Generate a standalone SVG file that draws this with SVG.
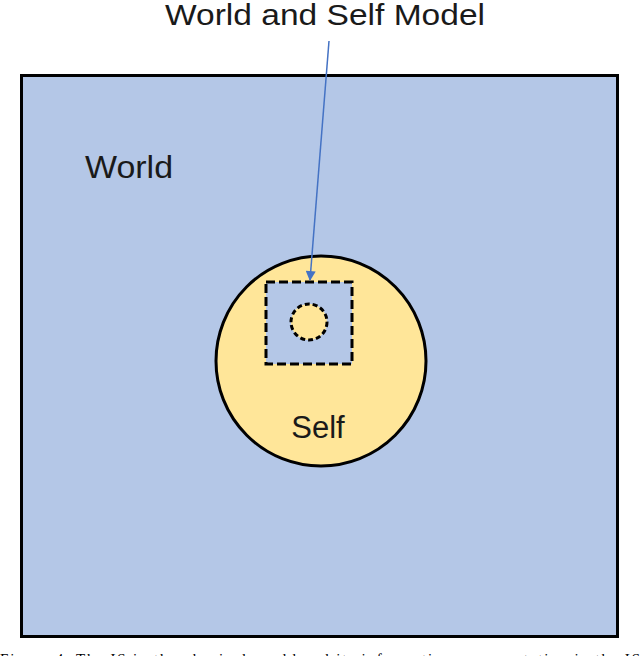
<svg xmlns="http://www.w3.org/2000/svg" width="640" height="656" viewBox="0 0 640 656">
<style>
.lbl{font-family:"Liberation Sans","Noto Sans",Arial,sans-serif;fill:#1a1a1a}
.dash{fill:none;stroke:#000;stroke-width:3}
</style>
<defs>
<marker id="ah" viewBox="0 0 10 10" refX="9" refY="5" markerWidth="11" markerHeight="10" markerUnits="userSpaceOnUse" orient="auto">
<path d="M0,0 L10,5 L0,10 z" fill="#4472C4"/>
</marker>
</defs>
<rect width="640" height="656" fill="#fff"/>
<g id="world">
<rect x="21.5" y="75.5" width="596" height="561" fill="#B4C7E7" stroke="#000" stroke-width="3"/>
<text class="lbl" x="85" y="178" font-size="32" textLength="88" lengthAdjust="spacingAndGlyphs">World</text>
</g>
<g id="self">
<circle cx="321" cy="361" r="105" fill="#FFE699" stroke="#000" stroke-width="3"/>
<text class="lbl" x="318" y="438" font-size="31" text-anchor="middle">Self</text>
</g>
<g id="model">
<rect x="266" y="282" width="86" height="82" class="dash" style="fill:#B4C7E7" stroke-dasharray="9,4"/>
<circle cx="309" cy="322" r="18" class="dash" style="fill:#FFE699" stroke-dasharray="5,3"/>
</g>
<g id="title">
<text class="lbl" x="165" y="25" font-size="29" textLength="320" lengthAdjust="spacingAndGlyphs">World and Self Model</text>
</g>
<g id="connectors">
<line x1="329" y1="41" x2="310" y2="280" stroke="#4472C4" stroke-width="1.5" marker-end="url(#ah)"/>
</g>
<text x="0" y="664" font-family="Liberation Serif,serif" font-size="15" fill="#000" textLength="640" lengthAdjust="spacing">Figure 4. The IS in the physical world and its information representation in the IS</text>
</svg>
